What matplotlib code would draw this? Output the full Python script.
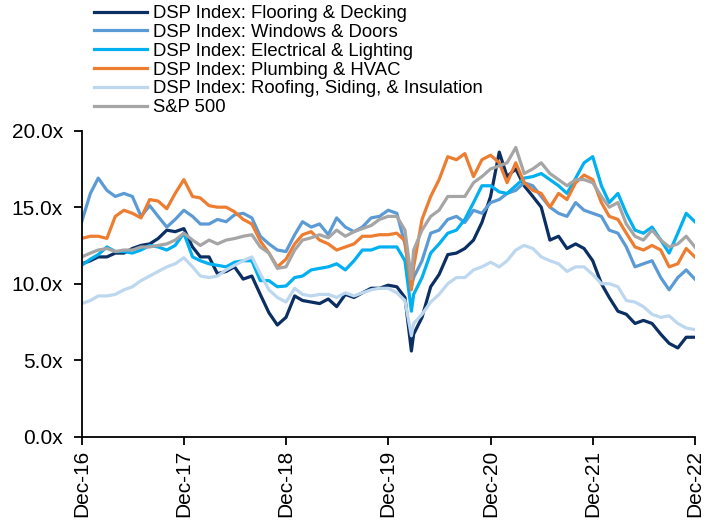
import matplotlib
matplotlib.use("Agg")
import matplotlib.pyplot as plt
import matplotlib.dates as mdates
import pandas as pd

# month-end readings Dec-16 .. Dec-22, plus the Covid low (23 Mar 2020)
month_ends = list(pd.date_range("2016-12-31", "2022-12-31", freq="ME"))
covid_low = pd.Timestamp("2020-03-23")
dates = month_ends[:39] + [covid_low] + month_ends[39:]

flooring = [11.3, 11.5, 11.75, 11.75, 12.0, 12.0, 12.3, 12.5, 12.6, 12.95, 13.5, 13.4, 13.6,
            12.4, 11.75, 11.75, 10.65, 10.8, 11.1, 10.3, 10.5, 9.3, 8.1, 7.3, 7.8,
            9.2, 8.9, 8.8, 8.7, 9.0, 8.5, 9.3, 9.1, 9.4, 9.7, 9.7, 9.9,
            9.8, 9.1, 5.6, 6.7, 7.8, 9.8, 10.6, 11.9, 12.0, 12.3, 12.85, 14.0, 15.7,
            18.6, 17.0, 17.5, 16.4, 15.7, 15.0, 12.85, 13.1, 12.3, 12.6, 12.3, 11.5,
            10.0, 9.1, 8.2, 8.0, 7.4, 7.6, 7.4, 6.7, 6.1, 5.8, 6.5, 6.5]

windows = [14.05, 15.9, 16.9, 16.1, 15.7, 15.9, 15.7, 14.4, 15.1, 14.4, 13.7, 14.2, 14.8,
           14.4, 13.9, 13.9, 14.2, 14.05, 14.5, 14.6, 14.3, 13.1, 12.6, 12.2, 12.1,
           13.2, 14.05, 13.7, 13.9, 13.2, 14.3, 13.7, 13.4, 13.7, 14.3, 14.4, 14.8,
           14.6, 12.6, 9.8, 10.4, 11.5, 13.3, 13.5, 14.2, 14.4, 14.0, 14.8, 14.6, 15.3,
           15.5, 15.9, 16.1, 16.6, 16.4, 15.7, 15.0, 14.6, 14.4, 15.3, 14.8, 14.6,
           14.4, 13.5, 13.3, 12.4, 11.1, 11.3, 11.5, 10.4, 9.6, 10.4, 10.9, 10.3]

electrical = [11.2, 11.6, 11.9, 12.4, 12.1, 12.1, 12.0, 12.2, 12.5, 12.4, 12.2, 12.5, 13.3,
              11.75, 11.5, 11.3, 11.2, 11.1, 11.4, 11.5, 11.5, 10.2, 10.2, 9.8, 9.85,
              10.4, 10.5, 10.9, 11.0, 11.1, 11.3, 10.9, 11.5, 12.2, 12.2, 12.4, 12.4,
              12.4, 11.5, 8.2, 9.3, 10.4, 12.0, 12.6, 13.3, 13.5, 14.2, 15.3, 16.4, 16.4,
              16.0, 15.9, 16.4, 16.9, 17.0, 17.2, 16.8, 16.4, 15.9, 16.9, 17.9, 18.3,
              16.4, 15.3, 15.9, 14.6, 13.5, 13.3, 13.7, 12.85, 12.0, 13.3, 14.6, 14.05]

plumbing = [12.96, 13.1, 13.1, 12.96, 14.4, 14.8, 14.6, 14.3, 15.5, 15.4, 14.9, 15.9, 16.8,
            15.7, 15.6, 15.1, 15.0, 15.0, 14.7, 14.2, 13.9, 12.8, 12.0, 11.1, 11.6,
            12.6, 13.2, 13.4, 12.85, 12.6, 12.2, 12.4, 12.6, 13.1, 13.1, 13.2, 13.2,
            13.3, 12.8, 9.6, 11.1, 14.2, 15.7, 16.8, 18.3, 18.1, 18.5, 17.0, 18.1, 18.4,
            17.9, 16.6, 17.9, 16.6, 16.1, 15.9, 15.0, 15.9, 15.5, 16.6, 17.1, 16.8,
            15.3, 14.4, 14.2, 13.3, 12.4, 12.2, 12.5, 12.2, 11.1, 11.3, 12.3, 11.75]

roofing = [8.7, 8.9, 9.2, 9.2, 9.3, 9.6, 9.8, 10.2, 10.5, 10.8, 11.1, 11.3, 11.7,
           11.1, 10.5, 10.4, 10.5, 10.9, 11.2, 11.5, 11.75, 10.65, 9.6, 9.1, 8.8,
           9.7, 9.3, 9.2, 9.3, 9.3, 9.1, 9.4, 9.2, 9.4, 9.6, 9.7, 9.7,
           9.4, 8.9, 6.6, 7.4, 8.0, 8.8, 9.3, 10.0, 10.4, 10.4, 10.9, 11.1, 11.4,
           11.1, 11.5, 12.2, 12.5, 12.3, 11.75, 11.5, 11.3, 10.8, 11.1, 11.1, 10.6,
           10.0, 10.0, 9.8, 8.9, 8.8, 8.5, 8.0, 7.8, 7.9, 7.4, 7.1, 7.0]

sp500 = [11.75, 12.0, 12.2, 12.3, 12.1, 12.2, 12.2, 12.4, 12.4, 12.5, 12.6, 12.85, 13.3,
         12.85, 12.5, 12.85, 12.6, 12.85, 12.95, 13.1, 13.2, 12.4, 12.0, 11.0, 11.1,
         12.2, 12.85, 13.0, 13.2, 13.0, 13.5, 13.1, 13.4, 13.6, 13.8, 14.2, 14.4,
         14.4, 13.5, 10.3, 12.2, 13.5, 14.4, 14.8, 15.7, 15.7, 15.7, 16.6, 17.0, 17.5,
         17.7, 17.9, 18.9, 17.2, 17.5, 17.9, 17.2, 16.8, 16.4, 16.8, 16.8, 16.6,
         15.7, 15.0, 15.3, 13.9, 13.1, 12.85, 13.5, 12.85, 12.4, 12.6, 13.1, 12.4]

labels = ["DSP Index: Flooring & Decking", "DSP Index: Windows & Doors",
          "DSP Index: Electrical & Lighting", "DSP Index: Plumbing & HVAC",
          "DSP Index: Roofing, Siding, & Insulation", "S&P 500"]
colors = ["#0B2F63", "#5B9BD5", "#00B0F0", "#ED7D31", "#BDD7EE", "#A5A5A5"]
series = [flooring, windows, electrical, plumbing, roofing, sp500]

plt.rcParams["font.family"] = ["Liberation Sans", "DejaVu Sans"]

fig = plt.figure(figsize=(7.18, 5.2), dpi=100)
ax = fig.add_axes([0.1138, 0.1602, 0.854, 0.5885])

for vals, col, lab in zip(series, colors, labels):
    ax.plot(dates, vals, color=col, lw=2.3, label=lab)

ax.set_ylim(0, 20)
ax.set_yticks([0, 5, 10, 15, 20])
ax.set_yticklabels([f"{v:.1f}x" for v in [0, 5, 10, 15, 20]])
ax.set_xlim(pd.Timestamp("2016-12-31"), pd.Timestamp("2022-12-31"))
ax.set_xticks(pd.date_range("2016-12-31", "2022-12-31", freq="12ME"))
ax.xaxis.set_major_formatter(mdates.DateFormatter("%b-%y"))
plt.setp(ax.get_xticklabels(), rotation=90)

ax.spines["top"].set_visible(False)
ax.spines["right"].set_visible(False)
ax.spines["left"].set_linewidth(1.3)
ax.spines["bottom"].set_linewidth(1.3)
ax.tick_params(axis="both", direction="out", length=5.5, width=1.3,
               labelsize=15, colors="black")
ax.tick_params(axis="y", pad=8)
ax.tick_params(axis="x", pad=4)

fig.legend(loc="upper left", bbox_to_anchor=(0.128, 0.994), frameon=False,
           fontsize=13.3, handlelength=2.9, handletextpad=0.3,
           labelspacing=0.1, borderpad=0.1, borderaxespad=0)

fig.savefig("out.png", dpi=100)
